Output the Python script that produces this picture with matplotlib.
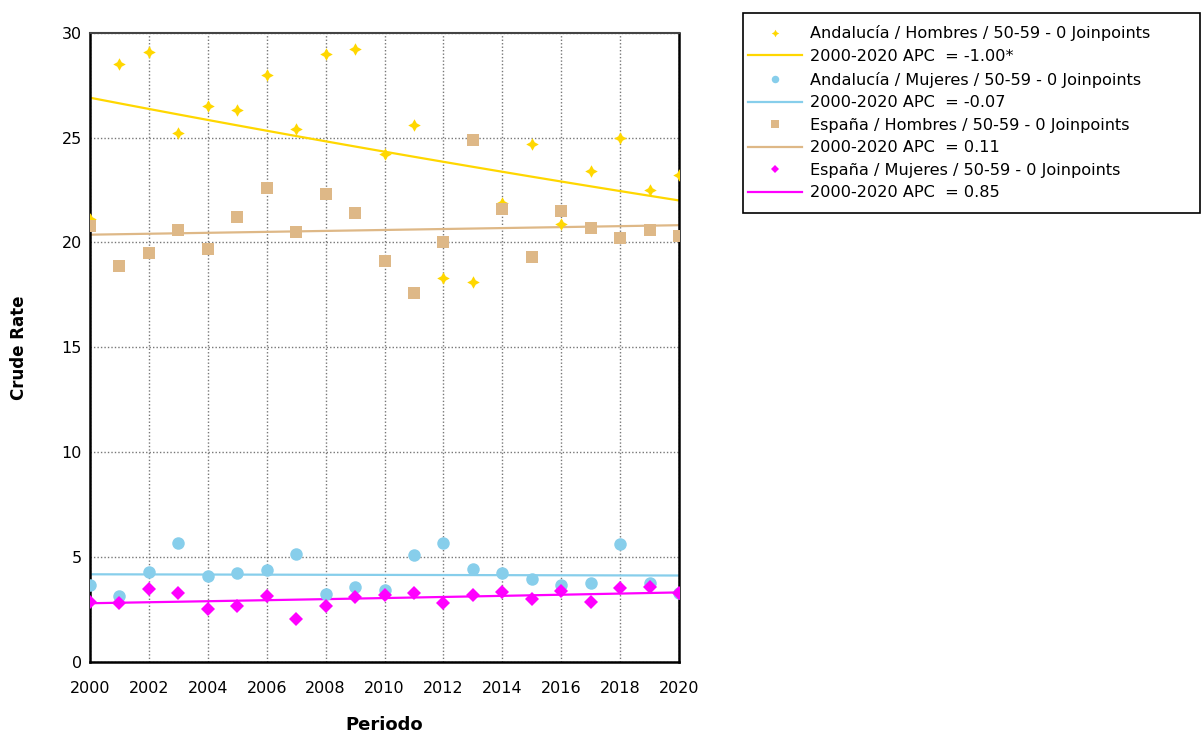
import numpy as np
import matplotlib
matplotlib.use("Agg")
import matplotlib.pyplot as plt
from matplotlib.lines import Line2D
from matplotlib.patches import Rectangle

years = list(range(2000, 2021))

and_hombres = [21.1, 28.5, 29.1, 25.2, 26.5, 26.3, 28.0, 25.4, 29.0, 29.2, 24.2,
               25.6, 18.3, 18.1, 21.9, 24.7, 20.9, 23.4, 25.0, 22.5, 23.2]
and_mujeres = [3.67, 3.13, 4.29, 5.67, 4.11, 4.26, 4.39, 5.13, 3.26, 3.57, 3.45,
               5.08, 5.69, 4.41, 4.26, 3.96, 3.67, 3.77, 5.61, 3.77, 3.29]
esp_hombres = [20.8, 18.9, 19.5, 20.6, 19.7, 21.2, 22.6, 20.5, 22.3, 21.4, 19.1,
               17.6, 20.0, 24.9, 21.6, 19.3, 21.5, 20.7, 20.2, 20.6, 20.3]
esp_mujeres = [2.87, 2.83, 3.48, 3.30, 2.53, 2.68, 3.13, 2.06, 2.68, 3.08, 3.19,
               3.27, 2.83, 3.19, 3.34, 3.00, 3.38, 2.87, 3.54, 3.56, 3.29]

# Joinpoint fits: value at 2000 and APC
fit_start = [26.9, 4.18, 20.37, 2.80]
apc = [-1.00, -0.07, 0.11, 0.85]

labels_pts = ["Andalucía / Hombres / 50-59 - 0 Joinpoints",
              "Andalucía / Mujeres / 50-59 - 0 Joinpoints",
              "España / Hombres / 50-59 - 0 Joinpoints",
              "España / Mujeres / 50-59 - 0 Joinpoints"]
labels_fit = ["2000-2020 APC  = -1.00*",
              "2000-2020 APC  = -0.07",
              "2000-2020 APC  = 0.11",
              "2000-2020 APC  = 0.85"]

colors = ["#FFD700", "#87CEEB", "#DEB887", "#FF00FF"]
markers = [(4, 1, 0), "o", "s", "D"]
msizes = [9, 9, 8.5, 7]
series = [and_hombres, and_mujeres, esp_hombres, esp_mujeres]

fig = plt.figure(figsize=(12.02, 7.33), dpi=100)
ax = fig.add_axes([0.0749, 0.0969, 0.4901, 0.8585])

yrs = np.array(years)
handles = []
for s, c, m, ms, f0, a, lp, lf in zip(series, colors, markers, msizes,
                                       fit_start, apc, labels_pts, labels_fit):
    ax.plot(years, s, linestyle="none", marker=m, color=c, markersize=ms,
            markeredgewidth=0, zorder=3)
    fit = f0 * (1 + a / 100.0) ** (yrs - 2000)
    ax.plot(years, fit, color=c, linewidth=1.6, zorder=2)
    handles.append(Line2D([], [], linestyle="none", marker=m, color=c,
                          markersize=ms * 0.6, markeredgewidth=0, label=lp))
    handles.append(Line2D([], [], color=c, linewidth=1.6, label=lf))

ax.set_xlim(2000, 2020)
ax.set_ylim(0, 30)
ax.set_xticks(range(2000, 2021, 2))
ax.set_yticks(range(0, 31, 5))
ax.tick_params(axis="x", length=0, labelsize=11.5, pad=14)
ax.tick_params(axis="y", length=0, labelsize=11.5, pad=6)
ax.grid(True, linestyle=(0, (1, 1.5)), color="#777777", linewidth=1.0)
ax.set_axisbelow(True)
for side in ["left", "bottom", "right"]:
    ax.spines[side].set_linewidth(1.8)
    ax.spines[side].set_color("black")
ax.spines["top"].set_linewidth(1.5)
ax.spines["top"].set_color("#444444")

ax.set_xlabel("Periodo", fontsize=13, fontweight="bold", labelpad=14)
ax.set_ylabel("Crude Rate", fontsize=12, fontweight="bold", labelpad=24)

# legend box
fig.patches.append(Rectangle((743 / 1202, 1 - 213 / 733), 457 / 1202, 200 / 733,
                             transform=fig.transFigure, fill=False,
                             edgecolor="black", linewidth=1.2))
fig.legend(handles=handles, loc="upper left",
           bbox_to_anchor=(742 / 1202, 1 - 19 / 733),
           frameon=False, fontsize=11.6, handlelength=3.3,
           handletextpad=0.55, labelspacing=0.47, borderaxespad=0)

fig.savefig("out.png", dpi=100)
